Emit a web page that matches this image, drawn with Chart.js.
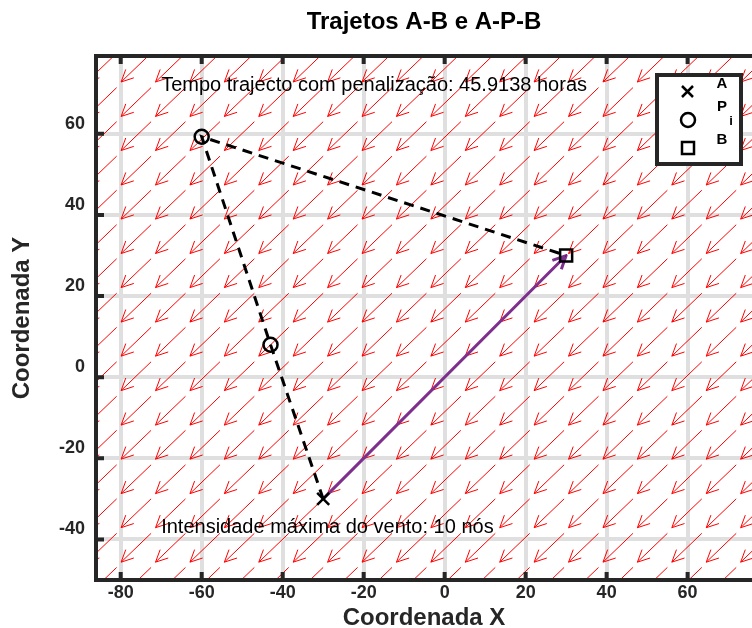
<!DOCTYPE html>
<html>
<head>
<meta charset="utf-8">
<script src="https://cdn.jsdelivr.net/npm/chart.js@4/dist/chart.umd.min.js"></script>
<style>
html, body { margin: 0; padding: 0; overflow: hidden; background: #fff; }
canvas { display: block; }
</style>
</head>
<body>
<canvas id="trajetos" width="752" height="628"></canvas>
<script>
// eixos
var xLimits = [-86.1, 75.9];
var yLimits = [-50, 79.2];
var xTicks = [-80, -60, -40, -20, 0, 20, 40, 60];
var yTicks = [-40, -20, 0, 20, 40, 60];

// trajecto A -> P2 -> P1 -> B
var routeX = [-30, -43, -60, 30];
var routeY = [-30, 8, 59.3, 30];
var pointA = [-30, -30];
var pointsPx = [-60, -43];
var pointsPy = [59.3, 8];
var pointB = [30, 30];

// campo de vento (origem das setas)
var windX = [-81, -72.5, -64, -55.5, -47, -38.5, -30, -21.5, -13, -4.5, 4, 12.5, 21, 29.5, 38, 46.5, 55, 63.5, 72, 80.5, 89];
var windY = [-55.4, -46.9, -38.5, -30, -21.6, -13.1, -4.7, 3.8, 12.3, 20.7, 29.2, 37.6, 46.1, 54.5, 63, 71.4, 79.9, 88.3];
var windU = -7.4;
var windV = -7.1;

var notes = ['Tempo trajecto com penalização: 45.9138 horas', 'Intensidade máxima do vento: 10 nós'];
var notesX = [-70, -70];
var notesY = [72, -37];

var legendLabels = ['A', 'P', 'B'];
var legendSub = 'i';

var FONT = 'Liberation Sans, Arial, Helvetica, sans-serif';
var DARK = '#262626';

function addArrow(out, x0, y0, x1, y1, len, spread) {
  var ang = Math.atan2(y1 - y0, x1 - x0);
  out.push({x: x0, y: y0}, {x: x1, y: y1}, {x: x1, y: null});
  out.push({x: x1 + len * Math.cos(ang + Math.PI - spread), y: y1 + len * Math.sin(ang + Math.PI - spread)});
  out.push({x: x1, y: y1});
  out.push({x: x1 + len * Math.cos(ang + Math.PI + spread), y: y1 + len * Math.sin(ang + Math.PI + spread)});
  out.push({x: x1, y: null});
}

var quiverPts = [];
windX.forEach(function (x) {
  windY.forEach(function (y) {
    addArrow(quiverPts, x, y, x + windU, y + windV, 3.3, 0.45);
  });
});

var directPts = [];
addArrow(directPts, pointA[0], pointA[1], pointB[0], pointB[1], 3.6, 0.45);

var routePts = routeX.map(function (x, i) { return {x: x, y: routeY[i]}; });

var decor = {
  id: 'decor',
  afterDatasetsDraw: function (chart) {
    var ctx = chart.ctx, a = chart.chartArea;
    var xs = chart.scales.x, ys = chart.scales.y;
    ctx.save();
    // textos
    ctx.fillStyle = '#000';
    ctx.font = '20px ' + FONT;
    ctx.textAlign = 'left';
    ctx.textBaseline = 'middle';
    notes.forEach(function (t, i) {
      ctx.fillText(t, xs.getPixelForValue(notesX[i]), ys.getPixelForValue(notesY[i]));
    });
    // moldura (lado direito fica fora da imagem)
    ctx.strokeStyle = DARK;
    ctx.lineWidth = 4;
    ctx.beginPath();
    ctx.moveTo(a.right + 4, a.top); ctx.lineTo(a.left, a.top);
    ctx.lineTo(a.left, a.bottom); ctx.lineTo(a.right + 4, a.bottom);
    xTicks.forEach(function (v) {
      var p = xs.getPixelForValue(v);
      ctx.moveTo(p, a.top); ctx.lineTo(p, a.top + 8);
      ctx.moveTo(p, a.bottom); ctx.lineTo(p, a.bottom - 8);
    });
    yTicks.forEach(function (v) {
      var p = ys.getPixelForValue(v);
      ctx.moveTo(a.left, p); ctx.lineTo(a.left + 8, p);
    });
    ctx.stroke();
    // legenda
    ctx.fillStyle = '#fff';
    ctx.fillRect(657, 75, 84, 89);
    ctx.strokeRect(657, 75, 84, 89);
    ctx.strokeStyle = '#000';
    ctx.lineWidth = 2.5;
    ctx.beginPath();
    ctx.moveTo(682, 86); ctx.lineTo(693, 97);
    ctx.moveTo(693, 86); ctx.lineTo(682, 97);
    ctx.stroke();
    ctx.beginPath();
    ctx.arc(688, 120, 7, 0, Math.PI * 2);
    ctx.stroke();
    ctx.strokeRect(682, 142, 12, 12);
    ctx.fillStyle = '#000';
    ctx.textAlign = 'center';
    ctx.font = 'bold 15px ' + FONT;
    ctx.fillText(legendLabels[0], 722, 84);
    ctx.fillText(legendLabels[1], 722, 107);
    ctx.fillText(legendLabels[2], 722, 140);
    ctx.font = 'bold 13px ' + FONT;
    ctx.fillText(legendSub, 731, 121);
    ctx.restore();
  }
};

new Chart(document.getElementById('trajetos'), {
  type: 'scatter',
  data: {
    datasets: [
      {
        label: 'A', data: [{x: pointA[0], y: pointA[1]}],
        pointStyle: 'crossRot', pointRadius: 8.5, borderWidth: 2.5,
        borderColor: '#000', backgroundColor: 'transparent'
      },
      {
        label: 'Pi', data: pointsPx.map(function (x, i) { return {x: x, y: pointsPy[i]}; }),
        pointStyle: 'circle', pointRadius: 7, borderWidth: 2.5,
        borderColor: '#000', backgroundColor: 'transparent'
      },
      {
        label: 'B', data: [{x: pointB[0], y: pointB[1]}],
        pointStyle: 'rect', pointRadius: 8.5, borderWidth: 2.5,
        borderColor: '#000', backgroundColor: 'transparent'
      },
      {
        label: 'A-P-B', data: routePts, showLine: true, pointRadius: 0,
        borderColor: '#000', borderWidth: 3, borderDash: [10, 7], spanGaps: false
      },
      {
        label: 'A-B', data: directPts, showLine: true, pointRadius: 0,
        borderColor: '#7E2F8E', borderWidth: 3, borderJoinStyle: 'round', spanGaps: false
      },
      {
        label: 'vento', data: quiverPts, showLine: true, pointRadius: 0,
        borderColor: '#ff0000', borderWidth: 1, spanGaps: false
      }
    ]
  },
  options: {
    responsive: false,
    animation: false,
    devicePixelRatio: 1,
    events: [],
    layout: { padding: 0, autoPadding: false },
    plugins: {
      legend: { display: false },
      tooltip: { enabled: false },
      title: {
        display: true, text: 'Trajetos A-B e A-P-B', fullSize: false, color: '#000',
        font: { family: FONT, size: 24, weight: 'bold', lineHeight: 1 },
        padding: { top: 10, bottom: 22 }
      }
    },
    scales: {
      x: {
        type: 'linear', min: xLimits[0], max: xLimits[1],
        afterBuildTicks: function (s) { s.ticks = xTicks.map(function (v) { return {value: v}; }); },
        afterFit: function (s) { s.height = 48; s.paddingLeft = 0; s.paddingRight = 0; },
        grid: { color: '#dfdfdf', lineWidth: 4, drawTicks: false },
        border: { display: false },
        ticks: { color: DARK, padding: 2, maxRotation: 0, font: { family: FONT, size: 18, weight: 'bold' } },
        title: {
          display: true, text: 'Coordenada X', color: DARK,
          font: { family: FONT, size: 24, weight: 'bold', lineHeight: 1 },
          padding: { top: 0, bottom: -2 }
        }
      },
      y: {
        type: 'linear', min: yLimits[0], max: yLimits[1],
        afterBuildTicks: function (s) { s.ticks = yTicks.map(function (v) { return {value: v}; }); },
        afterFit: function (s) { s.width = 96; s.paddingTop = 0; s.paddingBottom = 0; },
        grid: { color: '#dfdfdf', lineWidth: 4, drawTicks: false },
        border: { display: false },
        ticks: { color: DARK, padding: 11, labelOffset: -10, font: { family: FONT, size: 18, weight: 'bold' } },
        title: {
          display: true, text: 'Coordenada Y', color: DARK,
          font: { family: FONT, size: 24, weight: 'bold', lineHeight: 1 },
          padding: { top: 10, bottom: 0 }
        }
      }
    }
  },
  plugins: [decor]
});
</script>
</body>
</html>
